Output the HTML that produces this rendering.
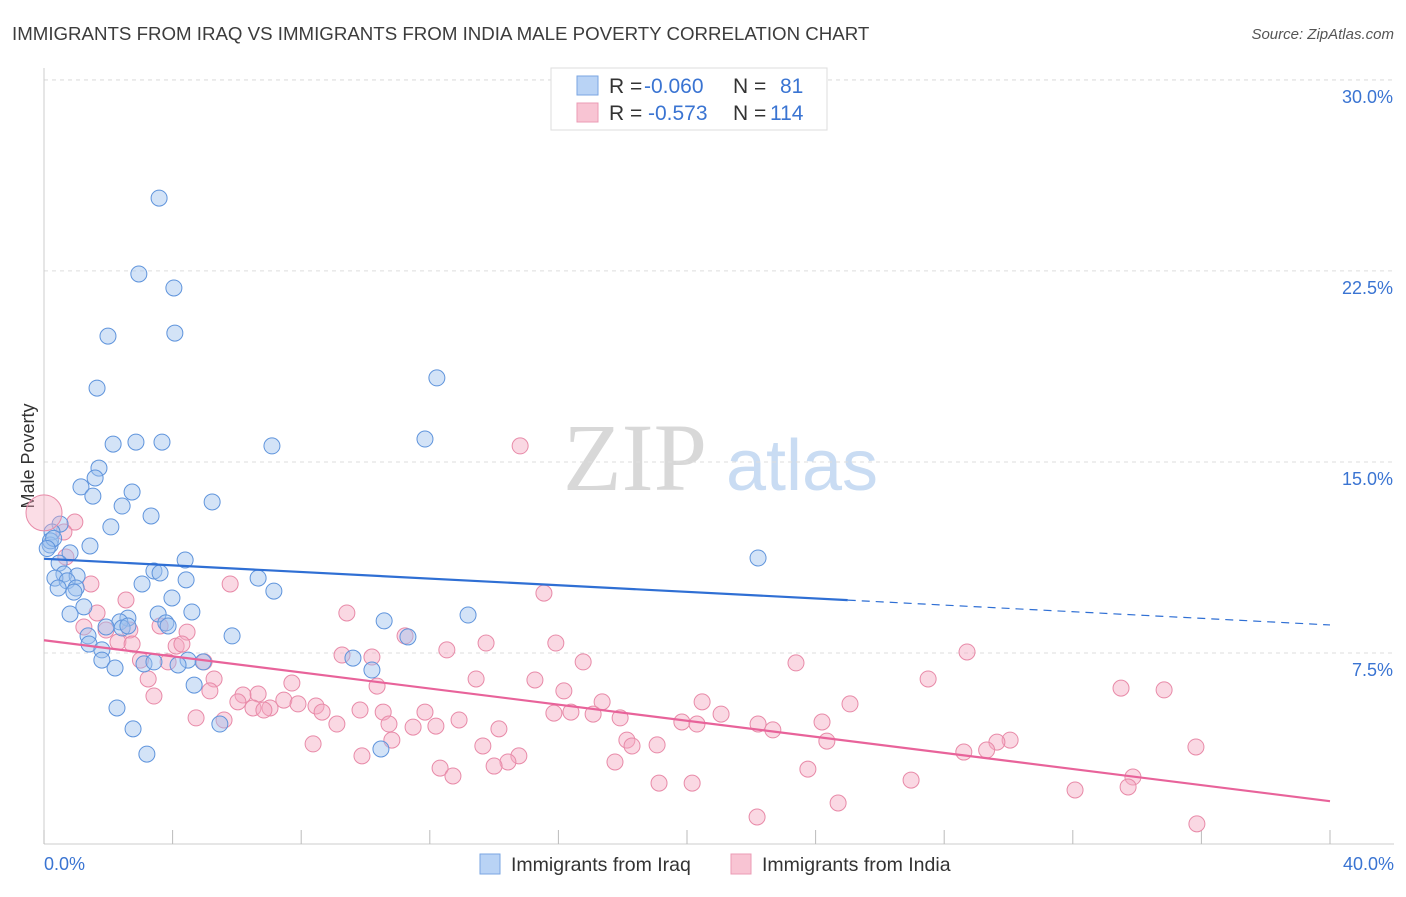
<!DOCTYPE html>
<html><head><meta charset="utf-8"><style>
body{margin:0;background:#fff;font-family:"Liberation Sans",sans-serif;}
svg text{font-family:"Liberation Sans",sans-serif;}
</style></head><body>
<svg id="chart" width="1406" height="892" xmlns="http://www.w3.org/2000/svg">
<text x="12" y="40" font-size="18.7" fill="#3c3c3c">IMMIGRANTS FROM IRAQ VS IMMIGRANTS FROM INDIA MALE POVERTY CORRELATION CHART</text>
<text x="1394" y="39" font-size="15" fill="#555" font-style="italic" text-anchor="end">Source: ZipAtlas.com</text>
<text x="0" y="0" font-size="18" fill="#333" transform="translate(34,456) rotate(-90)" text-anchor="middle">Male Poverty</text>
<g>
<text x="635" y="490" font-size="96" fill="#d8d8d8" text-anchor="middle" font-family="Liberation Serif" style="font-family:'Liberation Serif',serif">ZIP</text>
<text x="802" y="490" font-size="72" fill="#c9dcf3" text-anchor="middle">atlas</text>
</g>
<g id="grid"></g><g id="axes"></g><g id="pts"></g><g id="lines"></g>
<g>
<rect x="551" y="68" width="276" height="62" fill="#fff" stroke="#ddd"/>
<rect x="577" y="76" width="21" height="19" fill="#b9d3f5" stroke="#7aa6e2"/>
<rect x="577" y="103" width="21" height="19" fill="#f8c4d3" stroke="#eb9bb5"/>
<text x="609" y="93" font-size="21" fill="#333">R = <tspan x="644" fill="#3a74d2">-0.060</tspan></text>
<text x="733" y="93" font-size="21" fill="#333">N = <tspan x="780" fill="#3a74d2">81</tspan></text>
<text x="609" y="120" font-size="21" fill="#333">R = <tspan x="648" fill="#3a74d2">-0.573</tspan></text>
<text x="733" y="120" font-size="21" fill="#333">N = <tspan x="770" fill="#3a74d2">114</tspan></text>
</g>
<g>
<rect x="480" y="854" width="20" height="20" fill="#b9d3f5" stroke="#7aa6e2"/>
<text x="511" y="871" font-size="19.5" fill="#333">Immigrants from Iraq</text>
<rect x="731" y="854" width="20" height="20" fill="#f8c4d3" stroke="#eb9bb5"/>
<text x="762" y="871" font-size="19.5" fill="#333">Immigrants from India</text>
</g>
</svg>
<script>
const iraqX=[3.58,2.95,4.04,1.99,4.07,1.65,12.22,2.15,2.86,3.67,7.09,11.85,1.71,1.59,1.15,2.74,1.52,5.23,2.43,3.33,2.08,0.5,0.25,0.19,1.43,0.81,0.47,4.39,22.21,3.42,3.61,0.62,0.34,1.03,0.72,4.42,6.66,0.44,1.0,3.05,0.93,7.15,3.98,1.24,0.81,3.55,4.6,13.19,2.61,10.58,2.36,3.79,1.93,2.43,2.61,3.86,1.37,5.85,11.32,1.4,1.8,1.8,9.61,4.48,4.95,2.21,3.11,3.42,4.17,10.2,4.67,2.27,5.47,2.77,10.48,3.2,0.2,0.3,0.1];
const iraqY=[25.36,22.38,21.83,19.94,20.06,17.9,18.3,15.7,15.78,15.78,15.63,15.9,14.76,14.37,14.02,13.82,13.66,13.43,13.27,12.88,12.45,12.56,12.25,11.74,11.7,11.43,11.03,11.15,11.23,10.72,10.64,10.6,10.44,10.52,10.33,10.37,10.44,10.05,10.05,10.21,9.89,9.93,9.66,9.31,9.03,9.03,9.11,8.99,8.87,8.76,8.72,8.68,8.52,8.48,8.56,8.56,8.17,8.17,8.13,7.85,7.62,7.22,7.3,7.22,7.15,6.91,7.07,7.15,7.03,6.83,6.24,5.34,4.71,4.52,3.73,3.53,11.9,12.0,11.6];
const indiaX=[0.96,0.62,14.81,0.68,1.46,5.79,15.55,2.55,1.65,9.42,1.24,1.93,2.67,3.61,4.45,11.23,13.75,15.92,2.3,2.74,4.11,4.29,12.53,9.27,10.2,28.71,3.0,3.86,4.98,16.77,23.39,3.24,5.29,13.44,15.27,27.5,7.71,10.36,33.5,34.84,5.16,16.17,6.19,6.66,3.42,7.46,6.03,17.36,20.47,25.07,6.5,7.03,7.9,8.46,6.84,8.65,9.83,10.55,11.85,15.86,16.39,17.08,21.06,4.73,5.6,9.11,10.73,12.91,17.92,19.84,20.31,22.21,24.2,11.48,12.19,14.15,22.67,10.82,18.13,18.29,19.07,8.37,13.65,24.35,30.05,29.64,28.61,29.32,35.83,9.89,14.77,14.43,14.0,17.76,12.32,12.72,23.76,19.13,20.16,26.97,33.87,33.72,32.07,24.7,22.18,35.86];
const indiaY=[12.64,12.25,15.63,11.27,10.21,10.21,9.85,9.58,9.07,9.07,8.52,8.4,8.4,8.56,8.32,8.17,7.89,7.89,7.93,7.85,7.77,7.85,7.62,7.42,7.34,7.54,7.22,7.15,7.15,7.15,7.11,6.48,6.48,6.48,6.44,6.48,6.32,6.2,6.12,6.05,6.01,6.01,5.85,5.89,5.81,5.65,5.58,5.58,5.58,5.5,5.34,5.34,5.5,5.42,5.26,5.18,5.26,5.18,5.18,5.14,5.18,5.1,5.1,4.95,4.87,4.71,4.71,4.87,4.95,4.79,4.71,4.71,4.79,4.59,4.63,4.52,4.48,4.08,4.08,3.85,3.89,3.93,3.85,4.04,4.08,4.0,3.61,3.69,3.81,3.46,3.46,3.22,3.06,3.22,2.98,2.67,2.94,2.39,2.39,2.51,2.63,2.24,2.12,1.61,1.06,0.79];
const yTicks=[7.5,15,22.5,30];
const xTickVals=[0,4,8,12,16,20,24,28,32,36,40];
const iraqTrend=[11.2,-0.065];
const indiaTrend=[8.0,-0.158];
const NS="http://www.w3.org/2000/svg";
const X=v=>44+v*32.15, Y=v=>844-v*25.47;
function mk(t,a,p){const e=document.createElementNS(NS,t);for(const k in a)e.setAttribute(k,a[k]);p.appendChild(e);return e;}
const grid=document.getElementById('grid'),axes=document.getElementById('axes'),lines=document.getElementById('lines'),pts=document.getElementById('pts');
yTicks.forEach(v=>{
 const l=mk('line',{x1:44,x2:1394,y1:Y(v),y2:Y(v),stroke:'#dedede','stroke-dasharray':'4,4'},grid);
 
 
 const t=mk('text',{x:1393,y:Y(v)+23,'font-size':18,fill:'#3a74d2','text-anchor':'end'},axes);
 t.textContent=v.toFixed(1)+'%';
 
 
});
const topLine=mk('line',{x1:44,x2:1394,y1:80,y2:80,stroke:'#dedede','stroke-dasharray':'4,4'},grid);


const ya=mk('line',{x1:44,x2:44,y1:68,y2:844,stroke:'#ccc'},axes);


const xa=mk('line',{x1:44,x2:1394,y1:844,y2:844,stroke:'#ccc'},axes);


xTickVals.forEach(v=>{
 const l=mk('line',{x1:X(v),x2:X(v),y1:830,y2:844,stroke:'#bbb'},axes);
 
 
});
[[0,'start',44],[40,'end',1394]].forEach(([v,a,x])=>{
 const t=mk('text',{x:x,y:870,'font-size':18,fill:'#3a74d2','text-anchor':a},axes);
 t.textContent=v.toFixed(1)+'%';
 
 
});
function draw(xs,ys,fill,stroke,name){xs.forEach((x,i)=>{
 const c=mk('circle',{cx:X(x),cy:Y(ys[i]),r:8,fill:fill,'fill-opacity':0.45,stroke:stroke,'stroke-width':1},pts);
 
 
});}
draw(indiaX,indiaY,'#f4a9c0','#e88aa8','india-point');
draw(iraqX,iraqY,'#9dc0ee','#5f94dc','iraq-point');
const big=mk('circle',{cx:X(0),cy:Y(13.0),r:18,fill:'#f4a9c0','fill-opacity':0.4,stroke:'#e88aa8'},pts);


const f=(t,x)=>t[0]+t[1]*x;
const b1=mk('line',{x1:X(0),y1:Y(f(iraqTrend,0)),x2:X(25),y2:Y(f(iraqTrend,25)),stroke:'#2f6fd4','stroke-width':2.2},lines);


const b2=mk('line',{x1:X(25),y1:Y(f(iraqTrend,25)),x2:X(40),y2:Y(f(iraqTrend,40)),stroke:'#2f6fd4','stroke-width':1.2,'stroke-dasharray':'8,6'},lines);


const p1=mk('line',{x1:X(0),y1:Y(f(indiaTrend,0)),x2:X(40),y2:Y(f(indiaTrend,40)),stroke:'#e8639a','stroke-width':2.2},lines);


</script>
</body></html>
